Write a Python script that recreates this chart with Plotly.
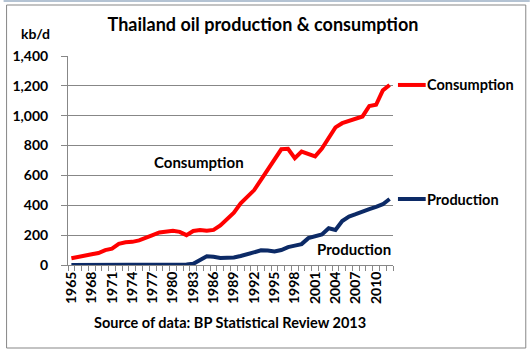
import plotly.graph_objects as go

years = list(range(1965, 2013))
consumption = [45, 52, 60, 72, 80, 100, 110, 142, 152, 155,
               165, 180, 200, 218, 225, 230, 222, 200, 228, 235,
               230, 235, 265, 305, 350, 413, 455, 502, 570, 640,
               710, 775, 778, 715, 760, 745, 728, 780, 850, 922,
               950, 965, 980, 995, 1065, 1073, 1170, 1206]
production = [0, 0, 0, 0, 0, 0, 0, 0, 0, 0,
              0, 0, 0, 0, 0, 0, 2, 4, 8, 30,
              58, 55, 47, 48, 50, 60, 74, 90, 98, 97,
              90, 100, 120, 130, 140, 180, 196, 205, 246, 235,
              295, 325, 340, 360, 375, 390, 407, 442]
label_years = years[::3]
y_ticks = [0, 200, 400, 600, 800, 1000, 1200, 1400]
y_ticktext = ["0", "200", "400", "600", "800", "1,000", "1,200", "1,400"]

RED = "#ff0000"
NAVY = "#0c2a66"
GRAY = "#878787"
FONT = "Lato"

fig = go.Figure()
fig.add_trace(go.Scatter(x=years, y=consumption, mode="lines", name="Consumption",
                         line=dict(color=RED, width=4)))
fig.add_trace(go.Scatter(x=years, y=production, mode="lines", name="Production",
                         line=dict(color=NAVY, width=4)))

W, H = 531, 354
L, R, T, B = 65, 138, 56, 89
pw, ph = W - L - R, H - T - B

def px(x):
    return (x - L) / pw

def py(y):
    return (H - B - y) / ph

# series end labels (legend-like)
for name, vals, col in [("Consumption", consumption, RED), ("Production", production, NAVY)]:
    fig.add_shape(type="line", xref="paper", yref="y", x0=px(398), x1=px(426),
                  y0=vals[-1], y1=vals[-1], line=dict(color=col, width=4))
    fig.add_annotation(xref="paper", yref="y", x=px(425), y=vals[-1], text=name,
                       showarrow=False, xanchor="left", yanchor="middle",
                       font=dict(family=FONT, size=14.5, color="black", weight="bold"))

fig.add_annotation(x=1983.8, y=692, text="Consumption", showarrow=False,
                   font=dict(family=FONT, size=15, color="black", weight="bold"))
fig.add_annotation(x=2006.7, y=105, text="Production", showarrow=False,
                   font=dict(family=FONT, size=15, color="black", weight="bold"))

fig.add_annotation(xref="paper", yref="paper", x=px(49), y=py(33), text="kb/d",
                   showarrow=False, xanchor="right", yanchor="middle",
                   font=dict(family=FONT, size=14, color="black", weight="bold"))
fig.add_annotation(xref="paper", yref="paper", x=px(228), y=py(322),
                   text="Source of data: BP Statistical Review 2013",
                   showarrow=False, xanchor="center", yanchor="middle",
                   font=dict(family=FONT, size=14.5, color="black", weight="bold"))

# chart border
fig.add_shape(type="rect", xref="paper", yref="paper", x0=px(3), x1=px(527),
              y0=py(348), y1=py(5), line=dict(color=GRAY, width=1), layer="below")
fig.add_shape(type="rect", xref="paper", yref="paper", x0=px(0), x1=px(531),
              y0=py(2), y1=py(0), line=dict(width=0), fillcolor="#b4c3d3", layer="below")

fig.update_layout(
    width=W, height=H,
    margin=dict(l=L, r=R, t=T, b=B),
    paper_bgcolor="white", plot_bgcolor="white",
    showlegend=False,
    title=dict(text="Thailand oil production & consumption", x=263 / W, xanchor="center",
               y=1 - 25 / H, yanchor="middle",
               font=dict(family=FONT, size=18, color="black", weight="bold")),
    xaxis=dict(range=[1964.5, 2012.5], tickvals=label_years, ticktext=[str(y) for y in label_years],
               tickangle=-90, ticks="", showgrid=False, zeroline=False,
               showline=True, linecolor=GRAY, linewidth=1,
               tickfont=dict(family=FONT, size=14, color="black", weight="bold"),
               minor=dict(tick0=1964.5, dtick=1, ticks="outside", ticklen=5,
                          tickcolor=GRAY, showgrid=False)),
    yaxis=dict(range=[0, 1400], tickvals=y_ticks, ticktext=y_ticktext,
               showgrid=True, gridcolor=GRAY, gridwidth=1, zeroline=False,
               showline=True, linecolor=GRAY, linewidth=1,
               ticks="outside", ticklen=6, tickcolor=GRAY, ticklabelstandoff=10,
               tickfont=dict(family=FONT, size=14, color="black", weight="bold")),
)

fig.write_html("out.html")
